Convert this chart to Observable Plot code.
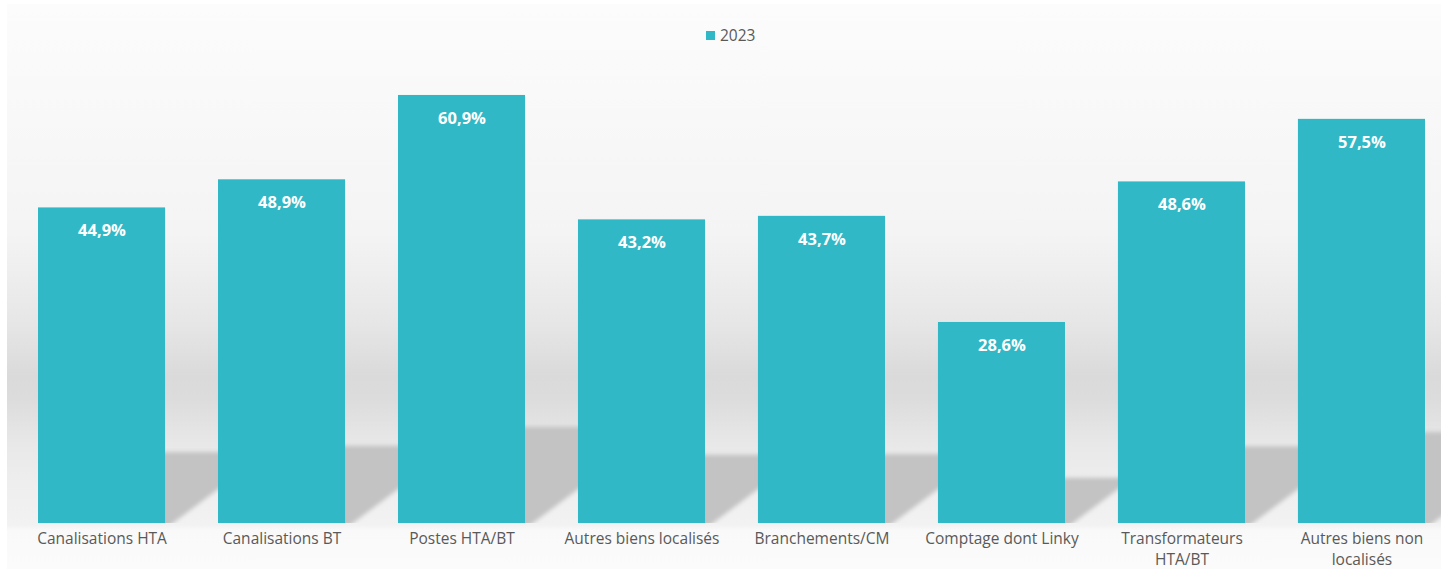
<!DOCTYPE html>
<html>
<head>
<meta charset="utf-8">
<script src="https://cdn.jsdelivr.net/npm/d3@7"></script>
<script src="https://cdn.jsdelivr.net/npm/@observablehq/plot@0.6"></script>
<style>
  body { margin: 0; background: #ffffff; }
  #wrap { position: relative; width: 1448px; height: 569px; }
  #legend { position: absolute; top: 24px; left: 706px; font-family: 'Open Sans', sans-serif; font-size: 15.5px; color: #595959; display: flex; align-items: center; gap: 5px; }
  #legend .sw { width: 9px; height: 9px; display: inline-block; }
</style>
</head>
<body>
<div id="wrap"></div>
<script>
const categories = ["Canalisations HTA", "Canalisations BT", "Postes HTA/BT", "Autres biens localisés", "Branchements/CM", "Comptage dont Linky", "Transformateurs HTA/BT", "Autres biens non localisés"];
const tickLabels = ["Canalisations HTA", "Canalisations BT", "Postes HTA/BT", "Autres biens localisés", "Branchements/CM", "Comptage dont Linky", "Transformateurs\nHTA/BT", "Autres biens non\nlocalisés"];
const values2023 = [44.9, 48.9, 60.9, 43.2, 43.7, 28.6, 48.6, 57.5];
const seriesName = "2023";
const barColor = "#31b8c6";

const data = categories.map((c, i) => ({category: c, value: values2023[i]}));
const fmt = v => v.toFixed(1).replace(".", ",") + "%";

const plot = Plot.plot({
  width: 1448,
  height: 569,
  marginTop: 31,
  marginBottom: 46,
  marginLeft: 38,
  marginRight: 23,
  style: {
    background: "linear-gradient(to bottom, #fcfcfc 0px, #f4f4f4 230px, #e6e6e6 320px, #dadada 372px, #dcdcdc 395px, #e8e8e8 440px, #eeeeee 480px, #f2f2f2 521px, #f9f9f9 526px, #fbfbfb 565px) 7px 4px / 1434px 565px no-repeat, #ffffff",
    color: "#595959",
    fontFamily: "'Open Sans', sans-serif",
    overflow: "visible"
  },
  x: {domain: categories, paddingInner: 0.294, paddingOuter: 0, round: false},
  y: {domain: [0, 70], axis: null},
  marks: [
    Plot.barY(data, {x: "category", y: "value", fill: barColor}),
    Plot.text(data, {x: "category", y: "value", text: d => fmt(d.value), dy: 23, fill: "white", fontWeight: "bold", fontSize: 16.5}),
    Plot.axisX({tickSize: 0, tickPadding: 5, fontSize: 15.5, lineHeight: 1.38, label: null, tickFormat: d => tickLabels[categories.indexOf(d)]})
  ]
});

// decorative floor shadows, positioned through the plot's own scales
const sx = plot.scale("x"), sy = plot.scale("y");
const svg = d3.select(plot);
const defs = svg.insert("defs", ":first-child");
defs.append("filter").attr("id", "shblur").attr("x", "-20%").attr("y", "-20%").attr("width", "140%").attr("height", "140%")
  .append("feGaussianBlur").attr("stdDeviation", 2.2);
const y0 = sy.apply(0);
defs.append("clipPath").attr("id", "shclip").append("rect")
  .attr("x", 7).attr("y", 0).attr("width", 1434).attr("height", y0);
const gs = svg.insert("g", "g[aria-label='bar']").attr("clip-path", "url(#shclip)")
  .append("g").attr("filter", "url(#shblur)");
data.forEach(d => {
  const x1 = sx.apply(d.category) + sx.bandwidth;
  const x2 = x1 + (sx.step - sx.bandwidth) + 12;
  const rise = (x2 - x1) * 0.66;
  const yTop = sy.apply(d.value * 0.225);
  gs.append("polygon")
    .attr("points", [[x1 - 10, y0 + 6], [x1, y0 + 6], [x2, y0 - rise], [x2, yTop], [x1 - 10, yTop]].map(p => p.join(",")).join(" "))
    .attr("fill", "#c3c3c3");
});

const wrap = document.getElementById("wrap");
wrap.appendChild(plot);
const legend = document.createElement("div");
legend.id = "legend";
legend.innerHTML = `<span class="sw" style="background:${barColor}"></span><span>${seriesName}</span>`;
wrap.appendChild(legend);
</script>
</body>
</html>
